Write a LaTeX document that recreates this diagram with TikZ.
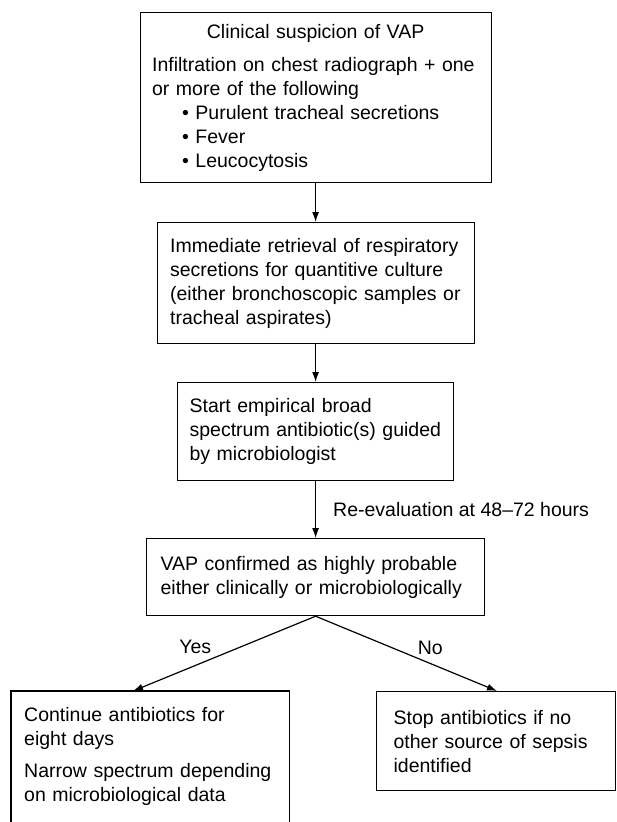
\documentclass[tikz,border=0pt]{standalone}
\usepackage{fontspec}
\setmainfont{Liberation Sans}
\usetikzlibrary{arrows.meta}
\begin{document}
\begin{tikzpicture}[x=1pt,y=-1pt,
  every node/.style={font=\fontsize{19.5}{24}\selectfont},
  box/.style={draw, line width=1.2pt, align=left, inner ysep=0pt, anchor=north west},
  openbox/.style={align=left, inner ysep=0pt, anchor=north west},
  arr/.style={line width=1.2pt, -{Latex[length=10pt,width=7pt]}},
  lbl/.style={inner sep=0pt},
  ]
\useasboundingbox (0,0) rectangle (616,822);
\fill[white] (0,0) rectangle (616,822);

\node[box, text width=327pt, inner xsep=12pt, minimum height=170pt] (clin) at (139.5,12) {%
\makebox[\hsize][c]{Clinical suspicion of VAP}\\[9pt]
Infiltration on chest radiograph + one\\
or more of the following\\
\hspace*{30pt}• Purulent tracheal secretions\\
\hspace*{30pt}• Fever\\
\hspace*{30pt}• Leucocytosis};

\node[box, text width=291pt, inner xsep=13pt, minimum height=121pt] (retr) at (156.5,222) {%
Immediate retrieval of respiratory\\
secretions for quantitive culture\\
(either bronchoscopic samples or\\
tracheal aspirates)};

\node[box, text width=252pt, inner xsep=12pt, minimum height=98pt] (start) at (177,382) {%
Start empirical broad\\
spectrum antibiotic(s) guided\\
by microbiologist};

\node[box, text width=310pt, inner xsep=14pt, minimum height=77pt] (conf) at (146,538) {%
VAP confirmed as highly probable\\
either clinically or microbiologically};

\node[openbox, text width=252pt, inner xsep=13pt, minimum height=131pt] (cont) at (11,691) {%
Continue antibiotics for\\
eight days\\[8pt]
Narrow spectrum depending\\
on microbiological data};
\draw[line width=1.2pt] (cont.south west) -- (cont.north west) -- (cont.north east) -- (cont.south east);

\node[box, text width=205pt, inner xsep=17pt, minimum height=99pt] (stop) at (376,691) {%
Stop antibiotics if no\\
other source of sepsis\\
identified};

\draw[arr] (clin.south) -- (clin.south |- retr.north);
\draw[arr] (retr.south) -- (retr.south |- start.north);
\draw[arr] (start.south) -- (start.south |- conf.north)
  node[lbl, pos=0.5, anchor=west, xshift=17pt] (reeval) {Re-evaluation at 48--72 hours};
\draw[arr] (conf.south) -- ([xshift=122pt]cont.north west)
  node[lbl, pos=0.659, above=11pt] (yes) {Yes};
\draw[arr] (conf.south) -- ([xshift=121pt]stop.north west)
  node[lbl, pos=0.632, above=8pt] (no) {No};
\end{tikzpicture}
\end{document}
